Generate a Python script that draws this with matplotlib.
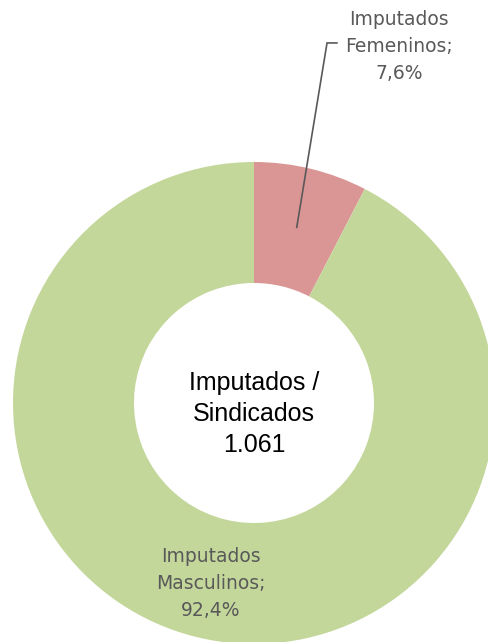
import matplotlib
matplotlib.use("Agg")
import matplotlib.pyplot as plt
import numpy as np

labels = ["Imputados\nFemeninos;", "Imputados\nMasculinos;"]
pct = [7.6, 92.4]
pct_txt = ["7,6%", "92,4%"]
colors = ["#DA9694", "#C4D79B"]
total_txt = "Imputados /\nSindicados\n1.061"

plt.rcParams['font.family'] = ['DejaVu Sans']

W, H = 488, 642
fig = plt.figure(figsize=(W / 100, H / 100), dpi=100)
cx, cy, R = 254, 403, 241
ax = fig.add_axes([(cx - R) / W, (H - cy - R) / H, 2 * R / W, 2 * R / H])

wedges, _ = ax.pie(pct, colors=colors, startangle=90, counterclock=False,
                   radius=1, wedgeprops=dict(width=1 - 120 / 241, linewidth=0))
ax.set_xlim(-1, 1)
ax.set_ylim(-1, 1)
ax.set_aspect('equal', adjustable='box')
ax.axis('off')

# mid angles of the slices
angles = []
start = 90
for p in pct:
    angles.append(np.deg2rad(start - p * 3.6 / 2))
    start -= p * 3.6

gray = "#595959"
fs = 13.5

# female slice: label outside with leader line
a = angles[0]
x0, y0 = 0.75 * np.cos(a), 0.75 * np.sin(a)
ax.plot([x0, 0.303, 0.344], [y0, 1.494, 1.494], color=gray, lw=1.2,
        clip_on=False, solid_joinstyle='miter')
ax.text(0.602, 1.48, labels[0] + "\n" + pct_txt[0], ha='center', va='center',
        fontsize=fs, color=gray, linespacing=1.55, clip_on=False)

# male slice: label inside ring
a = angles[1]
ax.text(0.76 * np.cos(a), 0.76 * np.sin(a) - 0.01, labels[1] + "\n" + pct_txt[1],
        ha='center', va='center', fontsize=fs, color=gray, linespacing=1.55)

ax.text(0, -0.045, total_txt, ha='center', va='center', fontsize=18,
        color='black', linespacing=1.36, family='Liberation Sans')

fig.savefig("out.png", dpi=100)
